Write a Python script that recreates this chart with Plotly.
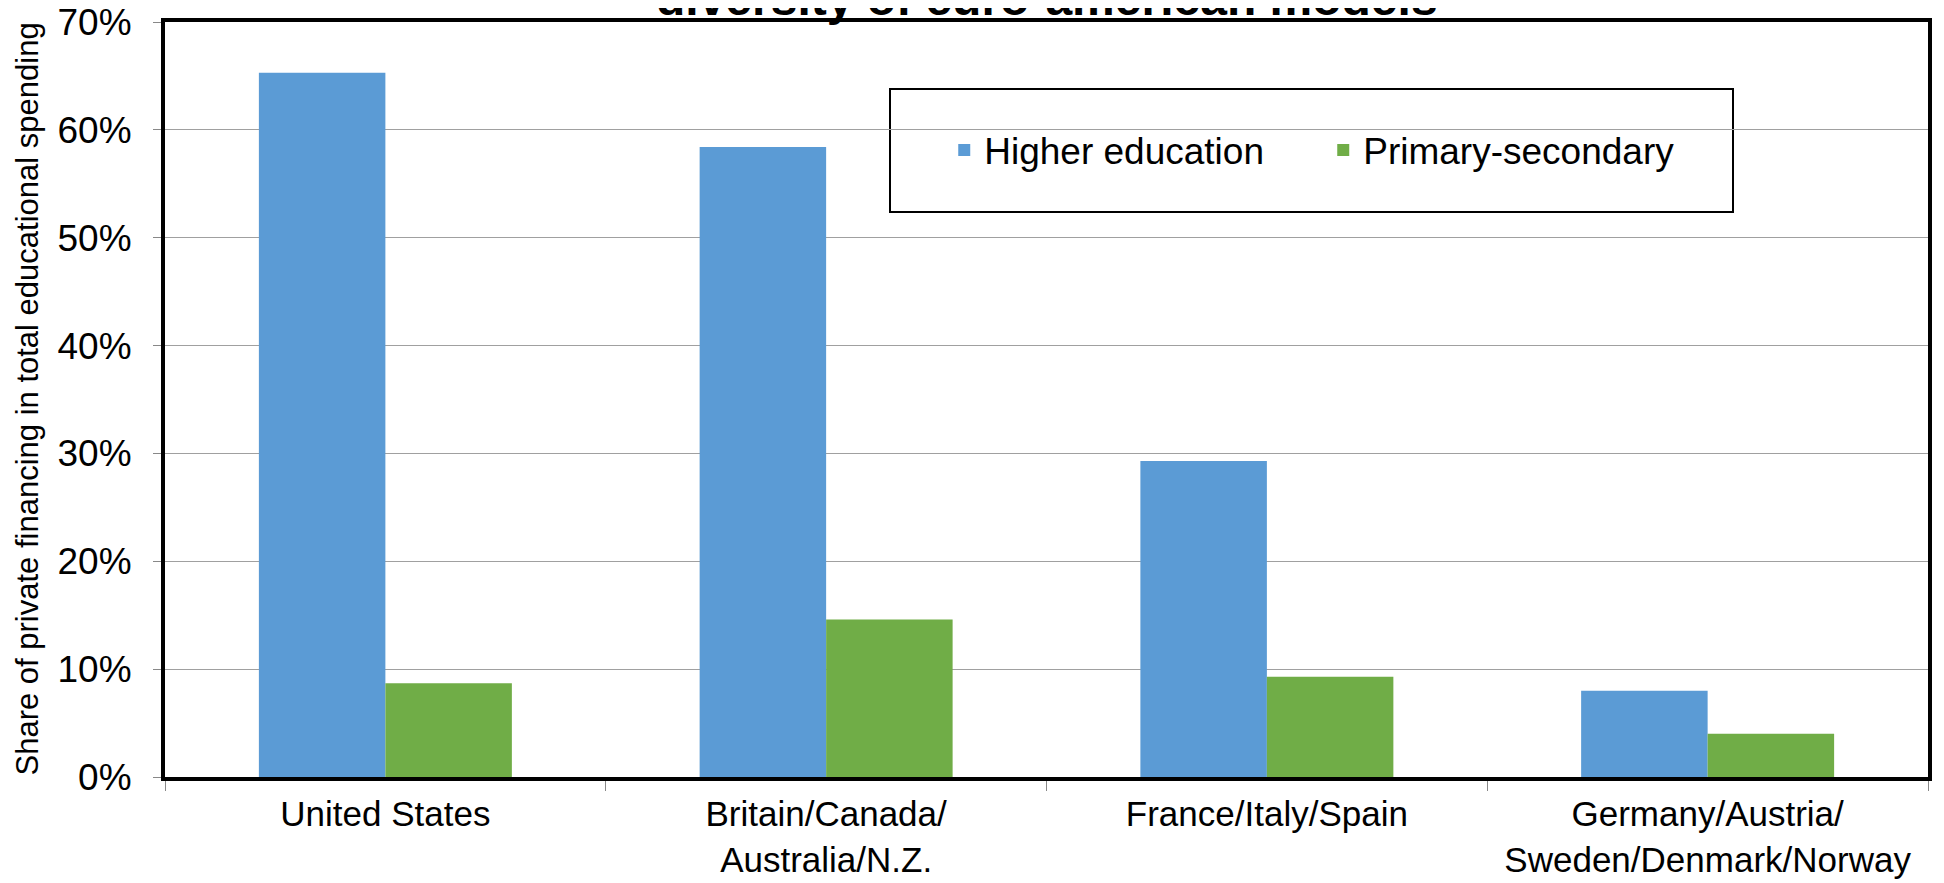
import plotly.graph_objects as go

categories = ["United States", "Britain/Canada/<br>Australia/N.Z.", "France/Italy/Spain",
              "Germany/Austria/<br>Sweden/Denmark/Norway"]
higher_education = [65.3, 58.4, 29.3, 8.0]
primary_secondary = [8.7, 14.6, 9.3, 4.0]
series_names = ["Higher education", "Primary-secondary"]
title_text = "diversity of euro-american models"
y_title = "Share of private financing in total educational spending"

FONT = "Liberation Sans, Arial, sans-serif"

# page body has an 8px default margin, so the figure is sized to fit within the window
W, H = 1936, 875
L, R, T, B = 157, 16, 14, 106
PW, PH = W - L - R, H - T - B

fig = go.Figure()
fig.add_trace(go.Bar(x=categories, y=higher_education, name=series_names[0],
                     marker=dict(color="#5B9BD5", line=dict(width=0))))
fig.add_trace(go.Bar(x=categories, y=primary_secondary, name=series_names[1],
                     marker=dict(color="#70AD47", line=dict(width=0))))

fig.update_layout(
    width=W, height=H,
    margin=dict(l=L, r=R, t=T, b=B, autoexpand=False),
    paper_bgcolor="white", plot_bgcolor="white",
    barmode="group", bargap=0.426, bargroupgap=0,
    font=dict(family=FONT, color="black", size=37),
    showlegend=True,
    legend=dict(orientation="h", x=0.442, y=0.83, xanchor="left", yanchor="middle",
                bgcolor="rgba(0,0,0,0)", borderwidth=0,
                font=dict(size=37, family=FONT, color="black"),
                entrywidth=334, traceorder="normal"),
    shapes=[dict(type="rect", xref="paper", yref="paper",
                 x0=(890 - 165) / PW, x1=(1733 - 165) / PW,
                 y0=(777 - 212) / PH, y1=(777 - 89) / PH,
                 line=dict(color="black", width=2), fillcolor="white", layer="below")],
    annotations=[
        dict(text="<b>" + title_text + "</b>", xref="paper", yref="paper",
             x=0.5, y=1.0 - 5 / PH, xanchor="center", yanchor="bottom", showarrow=False,
             font=dict(size=48, family=FONT, color="black")),
        dict(text=y_title, xref="paper", yref="paper", x=(19 - L) / PW, y=0.5,
             xanchor="center", yanchor="middle", textangle=-90, showarrow=False,
             font=dict(size=31, family=FONT, color="black")),
    ],
)

fig.update_xaxes(
    type="category", showline=True, linecolor="black", linewidth=4, mirror=True,
    ticks="outside", tickson="boundaries", ticklen=10, tickcolor="#888888", tickwidth=1,
    tickfont=dict(size=35, family=FONT, color="black"), showgrid=False,
    automargin=False, ticklabelstandoff=3, ticklabeloverflow="allow",
)
fig.update_yaxes(
    range=[0, 70], dtick=10, ticksuffix="%", showline=True, linecolor="black", linewidth=4,
    mirror=True, ticks="outside", ticklen=8, tickcolor="#888888", tickwidth=1,
    showgrid=True, gridcolor="#A0A0A0", gridwidth=1, zeroline=False,
    tickfont=dict(size=37, family=FONT, color="black"), automargin=False,
    ticklabelstandoff=14, ticklabeloverflow="allow",
)

fig.write_html("out.html")
